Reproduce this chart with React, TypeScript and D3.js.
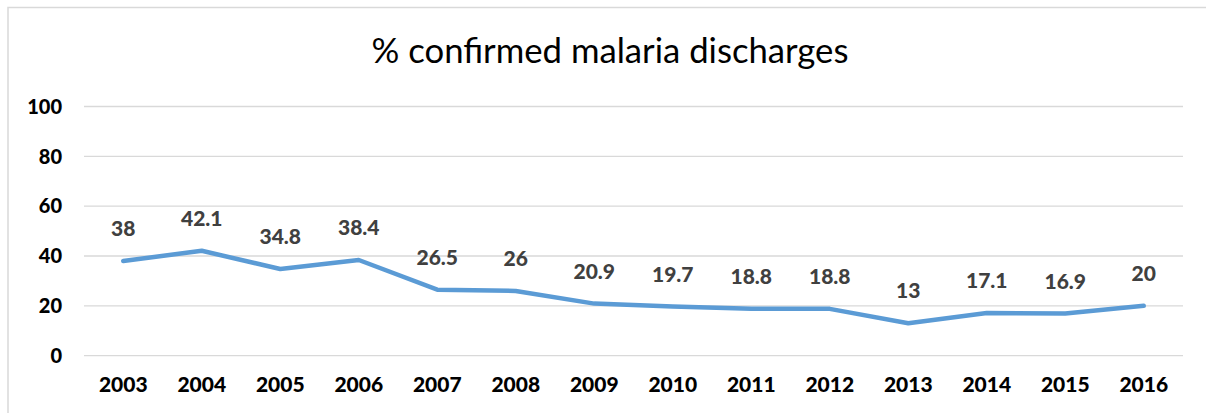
import React from "react";
import * as d3 from "d3";

const years = ["2003","2004","2005","2006","2007","2008","2009","2010","2011","2012","2013","2014","2015","2016"];
const values = [38, 42.1, 34.8, 38.4, 26.5, 26, 20.9, 19.7, 18.8, 18.8, 13, 17.1, 16.9, 20];
const yTicks = [0, 20, 40, 60, 80, 100];
const title = "% confirmed malaria discharges";

const W = 1206, H = 413;
const left = 84, right = 1183, top = 106.5, bottom = 355.7;

export default function App() {
  const x = d3.scaleBand<string>().domain(years).range([left, right]).padding(0);
  const y = d3.scaleLinear().domain([0, 100]).range([bottom, top]);
  const cx = (d: string) => (x(d) ?? 0) + x.bandwidth() / 2;
  const line = d3.line<number>().x((_, i) => cx(years[i])).y(v => y(v));
  const font = "Lato, 'Open Sans', sans-serif";
  return (
    <svg width={W} height={H} style={{ position: "absolute", left: 0, top: 0 }}>
      <rect x={0} y={0} width={W} height={H} fill="#fff" />
      <rect x={8} y={7.5} width={W + 10} height={H + 10} fill="#fff" stroke="#d9d9d9" strokeWidth={1.5} />
      <text x={610} y={63} textAnchor="middle" fontFamily={font} fontSize={34.7} fill="#000">{title}</text>
      {yTicks.map(t => (
        <g key={t}>
          <line x1={left} x2={right} y1={y(t)} y2={y(t)} stroke="#d9d9d9" strokeWidth={1.3} />
          <text x={62} y={y(t)} dy="0.36em" textAnchor="end" fontFamily={font} fontWeight={900} fontSize={20} fill="#000">{t}</text>
        </g>
      ))}
      {years.map(yr => (
        <text key={yr} x={cx(yr)} y={392} textAnchor="middle" fontFamily={font} fontWeight={900} fontSize={21} fill="#000">{yr}</text>
      ))}
      <path d={line(values) ?? ""} fill="none" stroke="#5b9bd5" strokeWidth={4.5} strokeLinejoin="round" strokeLinecap="round" />
      {values.map((v, i) => (
        <text key={i} x={cx(years[i])} y={y(v) - 25} textAnchor="middle" fontFamily={font} fontWeight={900} fontSize={21} fill="#404040">{v}</text>
      ))}
    </svg>
  );
}
